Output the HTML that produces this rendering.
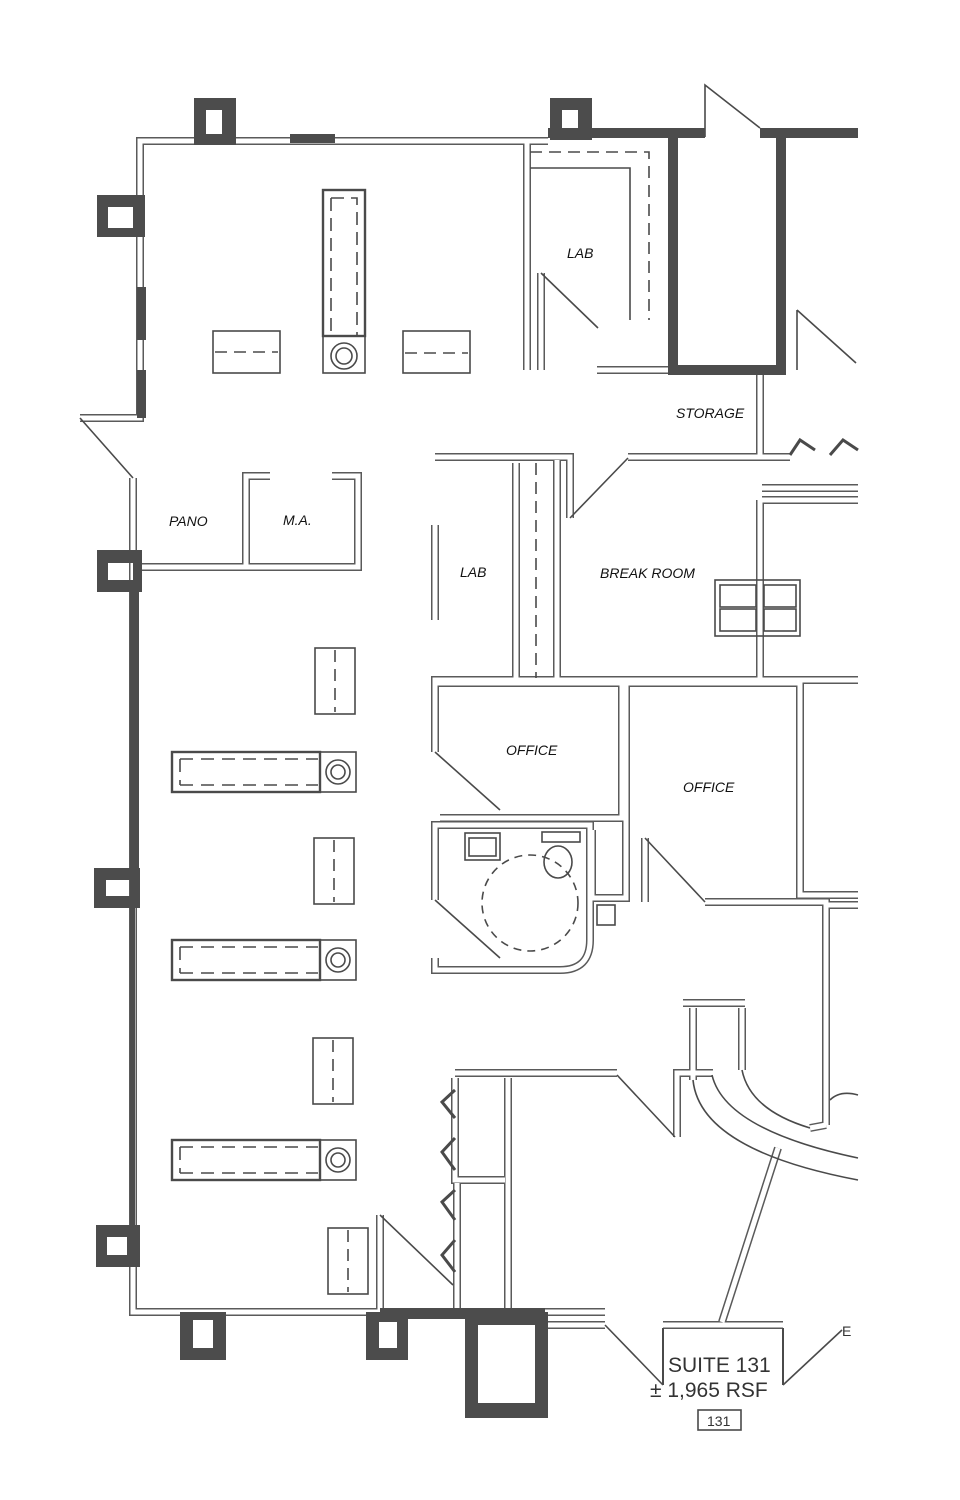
<!DOCTYPE html>
<html><head><meta charset="utf-8"><style>
html,body{margin:0;padding:0;background:#fff;}
svg{display:block;}
.lbl{font-family:"Liberation Sans",sans-serif;font-style:italic;font-size:14px;fill:#111;}
</style></head><body>
<svg width="960" height="1500" viewBox="0 0 960 1500" xmlns="http://www.w3.org/2000/svg">
<defs>
<g id="walls" fill="none">
  <path d="M548 141 H140 V418 H80"/>
  <path d="M133 478 V1312 H605"/>
  <path d="M527 141 V370"/>
  <path d="M541 273 V370"/>
  <path d="M597 370 H668"/>
  <path d="M760 372 V455"/>
  <path d="M435 457 H570 V518"/>
  <path d="M628 457 H790"/>
  <path d="M762 488 H858"/>
  <path d="M762 500 H858"/>
  <path d="M435 525 V620"/>
  <path d="M516 463 V678"/>
  <path d="M557 460 V678"/>
  <path d="M760 500 V678"/>
  <path d="M137 567 H358 V476 H332"/>
  <path d="M246 567 V476 H270"/>
  <path d="M435 752 V680 H858"/>
  <path d="M437 683 H622 V818 H440"/>
  <path d="M626 680 V898 H592 V830"/>
  <path d="M628 683 H800 V895"/>
  <path d="M800 683 V895 H858"/>
  <path d="M645 838 V902"/>
  <path d="M705 902 H826 V1125"/>
  <path d="M826 905 H858"/>
  <path d="M435 900 V825 H590 V940 Q590 970 560 970 H435 V958"/>
  <path d="M455 1073 H617"/>
  <path d="M677 1137 V1073 H713"/>
  <path d="M508 1078 V1312"/>
  <path d="M455 1078 V1180 H505"/>
  <path d="M457 1183 V1310"/>
  <path d="M380 1215 V1310"/>
  <path d="M683 1003 H745"/>
  <path d="M693 1008 V1080"/>
  <path d="M742 1008 V1070"/>
  <path d="M548 1325 H605"/>
  <path d="M663 1325 H783"/>
  <path d="M778 1148 L722 1322"/>
  <path d="M810 1128 L826 1125"/>
</g>
</defs>
<use href="#walls" stroke="#5a5a5a" stroke-width="8"/>
<use href="#walls" stroke="#fff" stroke-width="5"/>

<g fill="none" stroke="#4a4a4a" stroke-width="1.6">
  <path d="M80 418 L133 478"/>
  <path d="M541 273 L598 328"/>
  <path d="M705 137 V85 L760 128"/>
  <path d="M797 310 V370 M797 310 L856 363"/>
  <path d="M570 518 L628 458"/>
  <path d="M435 752 L500 810"/>
  <path d="M435 900 L500 958"/>
  <path d="M645 838 L705 902"/>
  <path d="M617 1075 L675 1137"/>
  <path d="M380 1215 L453 1285"/>
  <path d="M605 1325 L663 1385"/>
  <path d="M783 1385 L842 1330"/>
  <path d="M663 1328 V1385 M783 1328 V1385" stroke-width="2"/>
  <path d="M530 152 H649 V320" stroke-dasharray="12,7"/>
  <path d="M530 168 H630 V320"/>
  <path d="M536 463 V678" stroke-dasharray="12,7"/>
  <circle cx="530" cy="903" r="48" stroke-dasharray="8,6"/>
  <path d="M693 1080 Q700 1150 858 1180"/>
  <path d="M712 1075 Q725 1130 858 1158"/>
  <path d="M742 1070 Q750 1110 810 1128"/>
  <path d="M830 1100 Q840 1090 858 1095" />
  <path d="M790 455 L800 440 L815 450 M830 455 L843 440 L858 450" stroke-width="3"/>
  <path d="M455 1090 L442 1102 L455 1118 M455 1138 L442 1152 L455 1170 M455 1190 L442 1202 L455 1220 M455 1240 L442 1255 L455 1272" stroke-width="3"/>
  <rect x="715" y="580" width="85" height="56"/>
  <rect x="720" y="585" width="36" height="22"/><rect x="720" y="609" width="36" height="22"/>
  <rect x="764" y="585" width="32" height="22"/><rect x="764" y="609" width="32" height="22"/>
  <rect x="465" y="833" width="35" height="27"/><rect x="469" y="838" width="27" height="18"/>
  <rect x="542" y="832" width="38" height="10"/>
  <ellipse cx="558" cy="862" rx="14" ry="16"/>
  <rect x="597" y="905" width="18" height="20"/>
  <rect x="698" y="1410" width="43" height="20"/>
  <rect x="323" y="190" width="42" height="146" stroke-width="2.4"/>
  <path d="M331 198 H357 V336 M331 198 V336" stroke-dasharray="13,7"/>
  <rect x="323" y="336" width="42" height="37"/>
  <circle cx="344" cy="356" r="13"/><circle cx="344" cy="356" r="8"/>
  <rect x="213" y="331" width="67" height="42"/><path d="M215 352 H278" stroke-dasharray="12,7"/>
  <rect x="403" y="331" width="67" height="42"/><path d="M405 353 H468" stroke-dasharray="12,7"/>
  <rect x="315" y="648" width="40" height="66"/><path d="M335 650 V712" stroke-dasharray="12,7"/>
  <rect x="314" y="838" width="40" height="66"/><path d="M334 840 V902" stroke-dasharray="12,7"/>
  <rect x="313" y="1038" width="40" height="66"/><path d="M333 1040 V1102" stroke-dasharray="12,7"/>
  <rect x="328" y="1228" width="40" height="66"/><path d="M348 1230 V1292" stroke-dasharray="12,7"/>
  <g id="tray">
    <rect x="172" y="752" width="148" height="40" stroke-width="2.4"/>
    <path d="M180 759 H318 M180 785 H318 M180 759 V785" stroke-dasharray="13,8"/>
    <rect x="320" y="752" width="36" height="40"/>
    <circle cx="338" cy="772" r="12"/><circle cx="338" cy="772" r="7"/>
  </g>
  <use href="#tray" y="188"/>
  <use href="#tray" y="388"/>
</g>

<g fill="#4c4c4c">
  <rect x="548" y="128" width="157" height="10"/>
  <rect x="760" y="128" width="98" height="10"/>
  <rect x="668" y="137" width="10" height="238"/>
  <rect x="776" y="137" width="10" height="238"/>
  <rect x="668" y="365" width="118" height="10"/>
  <rect x="290" y="134" width="45" height="9"/>
  <rect x="130" y="590" width="9" height="278"/>
  <rect x="130" y="905" width="5" height="320"/>
  <rect x="137" y="287" width="9" height="53"/>
  <rect x="137" y="370" width="9" height="48"/>
  <rect x="380" y="1308" width="165" height="11"/>
  <path fill-rule="evenodd" d="M194 98 H236 V145 H194Z M206 110 V134 H222 V110Z"/>
  <path fill-rule="evenodd" d="M550 98 H592 V140 H550Z M562 110 V134 H578 V110Z"/>
  <path fill-rule="evenodd" d="M97 195 H145 V237 H97Z M108 207 V228 H133 V207Z"/>
  <path fill-rule="evenodd" d="M97 550 H142 V592 H97Z M108 563 V580 H133 V563Z"/>
  <path fill-rule="evenodd" d="M94 868 H140 V908 H94Z M106 880 V896 H130 V880Z"/>
  <path fill-rule="evenodd" d="M96 1225 H140 V1267 H96Z M107 1237 V1255 H127 V1237Z"/>
  <path fill-rule="evenodd" d="M180 1312 H226 V1360 H180Z M193 1320 V1348 H213 V1320Z"/>
  <path fill-rule="evenodd" d="M366 1312 H408 V1360 H366Z M379 1322 V1348 H397 V1322Z"/>
  <path fill-rule="evenodd" d="M465 1312 H548 V1418 H465Z M478 1325 V1403 H535 V1325Z"/>
</g>

<g class="lbl">
  <text x="567" y="258">LAB</text>
  <text x="676" y="418">STORAGE</text>
  <text x="169" y="526">PANO</text>
  <text x="283" y="525">M.A.</text>
  <text x="460" y="577">LAB</text>
  <text x="600" y="578">BREAK ROOM</text>
  <text x="506" y="755">OFFICE</text>
  <text x="683" y="792">OFFICE</text>
</g>
<g font-family="Liberation Sans,sans-serif" fill="#333">
  <text x="668" y="1372" font-size="21">SUITE 131</text>
  <text x="650" y="1397" font-size="21">± 1,965 RSF</text>
  <text x="707" y="1426" font-size="14">131</text>
  <text x="842" y="1336" font-size="14">E</text>
</g>
</svg>
</body></html>
